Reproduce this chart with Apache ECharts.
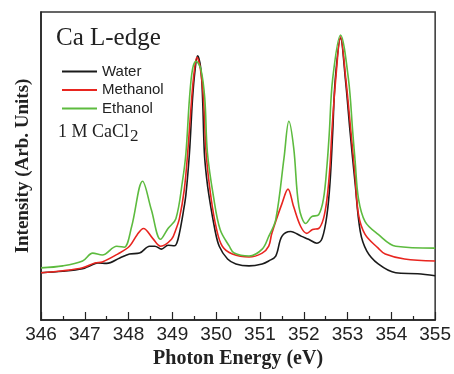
<!DOCTYPE html>
<html>
<head>
<meta charset="utf-8">
<script src="https://cdn.jsdelivr.net/npm/echarts@6/dist/echarts.min.js"></script>
<style>html,body{margin:0;padding:0;background:#fff;}#c{width:454px;height:374px;}</style>
</head>
<body>
<div id="c"></div>
<script>
var seriesNames = ['Water', 'Methanol', 'Ethanol'];
var xTicks = [346, 347, 348, 349, 350, 351, 352, 353, 354, 355];

var water = [
[346.00,48],[346.50,49.5],[346.95,52],[347.11,55],[347.30,58],[347.50,57.5],[347.80,63],[348.02,67],
[348.25,68],[348.48,75],[348.60,75],[348.75,72],[348.90,76],[349.05,75.5],[349.10,78],[349.16,88],
[349.25,110],[349.31,128],[349.39,170],[349.46,225],[349.52,255],[349.575,268.5],[349.65,255],[349.69,225],
[349.73,170],[349.78,145],[349.84,125],[349.97,92],[350.07,75],[350.26,62],[350.45,57],[350.75,55],[351.05,57],
[351.20,60],[351.36,65],[351.50,85],[351.70,90],[351.95,85],[352.11,82],[352.30,78],[352.42,83],
[352.53,107],[352.60,140],[352.66,190],[352.72,245],[352.84,286.5],[352.95,245],[353.06,190],
[353.17,140],[353.29,90],[353.44,70],[353.70,57],[354.10,48],[354.60,47],[355.00,45]
];
var methanol = [
[346.00,48],[346.50,50],[346.95,53],[347.23,58],[347.40,59],[347.75,67],[348.02,75],[348.20,87],
[348.34,93],[348.55,83],[348.73,75],[348.98,82],[349.08,92],[349.16,103],[349.27,132],[349.35,170],
[349.44,225],[349.50,253],[349.56,267],[349.64,255],[349.71,225],[349.77,170],[349.88,125],
[350.01,92],[350.14,75],[350.37,67],[350.75,64],[351.05,68],[351.20,75],[351.27,88],[351.50,118],
[351.64,133],[351.77,115],[351.93,95],[352.07,88],[352.20,92],[352.34,93],[352.45,103],[352.53,123],
[352.60,157],[352.64,190],[352.73,245],[352.84,287.7],[352.96,245],[353.08,190],[353.17,147],
[353.25,107],[353.40,87],[353.70,73],[353.86,67],[354.30,62],[355.00,60]
];
var ethanol = [
[346.00,53],[346.50,55],[346.95,60],[347.18,68],[347.40,66],[347.73,75],[347.90,74],[348.07,95],
[348.32,141],[348.52,112],[348.73,82],[348.90,93],[349.08,103],[349.23,141],[349.31,170],[349.39,225],
[349.46,255],[349.54,263],[349.65,255],[349.74,225],[349.80,170],[349.94,125],[350.09,92],[350.30,75],
[350.41,68],[350.75,65],[351.05,72],[351.20,85],[351.36,102],[351.55,165],[351.66,202],[351.77,175],
[351.89,115],[352.05,98],[352.18,105],[352.34,107],[352.45,123],[352.53,157],[352.58,188],[352.66,245],
[352.84,289.7],[353.02,245],[353.12,190],[353.17,163],[353.25,123],[353.40,100],[353.70,87],
[354.10,75],[355.00,73]
];
var colors = ['#1a1a1a', '#e8251f', '#5dbb3f'];
var datasets = [water, methanol, ethanol];

var chart = echarts.init(document.getElementById('c'), null, {renderer: 'canvas'});
var series = seriesNames.map(function (n, i) {
  return {
    name: n, type: 'line', data: datasets[i], showSymbol: false, smooth: 0.35,
    lineStyle: {color: colors[i], width: 1.6}, itemStyle: {color: colors[i]}, z: 2 + i
  };
});
chart.setOption({
  animation: false,
  grid: {left: 41, right: 17, top: 12, bottom: 49, show: true, borderColor: '#333', borderWidth: 1.5},
  title: {text: 'Ca L-edge', left: 51, top: 21,
    textStyle: {fontFamily: 'Liberation Serif', fontSize: 25, fontWeight: 'normal', color: '#222'}},
  legend: {
    orient: 'vertical', left: 57, top: 59, itemWidth: 35, itemHeight: 2, itemGap: 3.5, icon: 'rect',
    data: seriesNames,
    textStyle: {fontFamily: 'Liberation Sans', fontSize: 15, color: '#222', lineHeight: 15}
  },
  graphic: [
    {type: 'text', left: 58, top: 123, style: {text: '1 M CaCl', font: '18px "Liberation Serif"', fill: '#222'}},
    {type: 'text', left: 130, top: 128, style: {text: '2', font: '17px "Liberation Serif"', fill: '#222'}}
  ],
  xAxis: {
    type: 'value', min: xTicks[0], max: xTicks[xTicks.length - 1], interval: 1,
    name: 'Photon Energy (eV)', nameLocation: 'middle', nameGap: 29,
    nameTextStyle: {fontFamily: 'Liberation Serif', fontSize: 20, fontWeight: 'bold', color: '#222'},
    axisLine: {lineStyle: {color: '#222', width: 1.5}},
    axisTick: {inside: true, length: 8, lineStyle: {color: '#222', width: 1.2}},
    minorTick: {show: true, splitNumber: 2, length: 4, lineStyle: {color: '#222', width: 1.2}},
    axisLabel: {fontFamily: 'Liberation Sans', fontSize: 19, color: '#222', margin: 5},
    splitLine: {show: false}
  },
  yAxis: {
    type: 'value', min: 0, max: 313,
    name: 'Intensity (Arb. Units)', nameLocation: 'middle', nameGap: 8, nameRotate: 90,
    nameTextStyle: {fontFamily: 'Liberation Serif', fontSize: 19, fontWeight: 'bold', color: '#222'},
    axisLine: {show: true, lineStyle: {color: '#222', width: 1.5}},
    axisTick: {show: false}, axisLabel: {show: false}, splitLine: {show: false}
  },
  series: series
});
</script>
</body>
</html>
